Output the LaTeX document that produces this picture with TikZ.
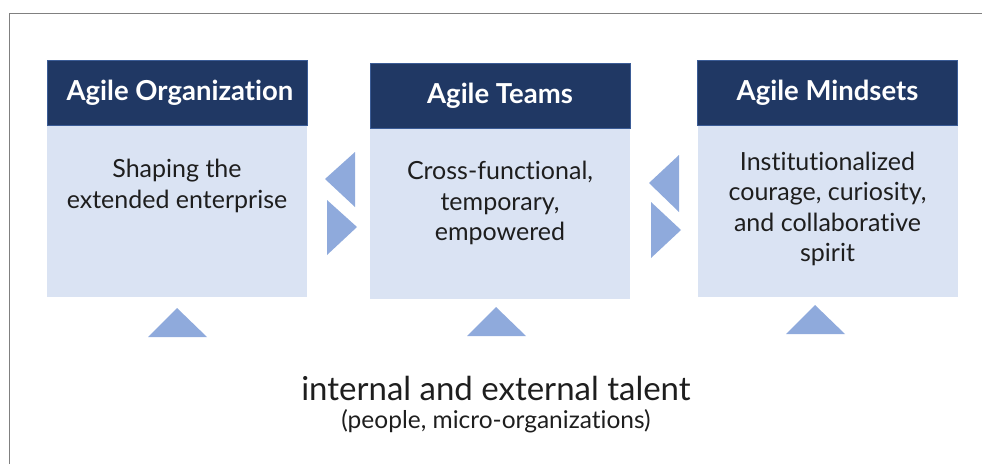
\documentclass[tikz,border=0pt]{standalone}
\usepackage{fontspec}
\setmainfont{Lato}[Ligatures={NoCommon}]
\usepackage{tikz}
\usetikzlibrary{positioning}
\definecolor{navy}{HTML}{203864}
\definecolor{navyedge}{HTML}{3B5C96}
\definecolor{paleblue}{HTML}{DAE3F3}
\definecolor{arrowblue}{HTML}{8FAADC}
\definecolor{inkgray}{HTML}{1E1E1E}
\begin{document}
\begin{tikzpicture}[x=1pt, y=-1pt,
    head/.style={rectangle, fill=navy, draw=navyedge, line width=0.6pt, minimum width=260pt, minimum height=65pt, inner sep=0pt, text=white, font=\fontsize{27.5}{32}\selectfont\bfseries},
    panel/.style={rectangle, fill=paleblue, minimum width=260pt, inner sep=0pt},
    desc/.style={align=center, text=inkgray, inner sep=0pt, font=\fontsize{25}{30.5}\selectfont},
    tri/.style={fill=arrowblue}]
    \useasboundingbox (0,0) rectangle (982,464);
    \draw[gray, line width=0.8pt] (9,464) -- (9,13) -- (982,13);

    % the three columns
    \node (orghead) [head] at (177,92.5) {\hspace{6pt}Agile Organization};
    \node (orgbody) [panel, minimum height=171pt, below=0pt of orghead] {};
    \node (teamhead) [head] at (500,95.5) {Agile Teams};
    \node (teambody) [panel, minimum height=170pt, below=0pt of teamhead] {};
    \node (mindhead) [head] at (827.5,92.5) {Agile Mindsets};
    \node (mindbody) [panel, minimum height=171pt, below=0pt of mindhead] {};

    \node (orgtext) [desc] at (177,186) {Shaping the\\extended enterprise};
    \node (teamtext) [desc] at (500,203) {Cross-functional,\\temporary,\\empowered};
    \node (mindtext) [desc] at (827.5,209) {Institutionalized\\courage, curiosity,\\and collaborative\\spirit};

    % arrows between columns
    \fill[tri] (325,179) -- (355,152) -- (355,207) -- cycle;
    \fill[tri] (327,200) -- (357,227) -- (327,255) -- cycle;
    \fill[tri] (649,183) -- (679,155) -- (679,212) -- cycle;
    \fill[tri] (651,202) -- (681,230) -- (651,258) -- cycle;

    % arrows from talent
    \fill[tri] (148,337) -- (177,308) -- (207,337) -- cycle;
    \fill[tri] (467,336) -- (496,307) -- (526,336) -- cycle;
    \fill[tri] (786,334) -- (815,305) -- (845,334) -- cycle;

    \node (talent) [inkgray, inner sep=0pt, font=\fontsize{33}{38}\selectfont] at (496,388) {internal and external talent};
    \node (talentsub) [inkgray, inner sep=0pt, font=\fontsize{24.5}{28}\selectfont] at (496,421) {(people, micro-organizations)};
\end{tikzpicture}
\end{document}
